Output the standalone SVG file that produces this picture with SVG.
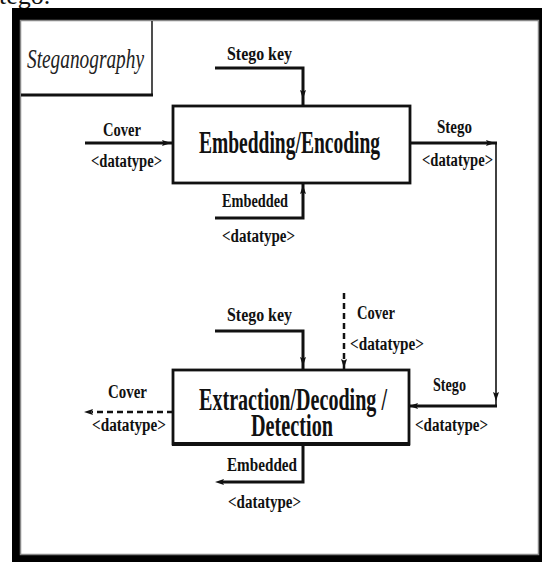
<svg xmlns="http://www.w3.org/2000/svg" xmlns:xlink="http://www.w3.org/1999/xlink" width="545" height="565" viewBox="0 0 545 565">
<style>
.lbl{font-family:"Liberation Serif","Times New Roman",serif;font-size:18px;font-weight:bold;fill:#111;}
.big{font-family:"Liberation Serif","Times New Roman",serif;font-size:32px;font-weight:bold;fill:#111;}
.ttl{font-family:"Liberation Serif","Times New Roman",serif;font-size:28px;font-style:italic;fill:#222;}
.box{fill:#fff;stroke:#111;stroke-width:2.8;}
.ln{fill:none;stroke:#111;stroke-width:3;}
.thin{fill:none;stroke:#111;stroke-width:1.6;}
.dash{fill:none;stroke:#111;stroke-width:2.5;stroke-dasharray:6 4;}
.ah{fill:#111;}
</style>
<defs>
<path id="ah" d="M5,0 L-4,-3 L-2.5,0 L-4,3 Z"/>
</defs>
<rect width="545" height="565" fill="#fff"/>
<text x="-1" y="4" font-family="Liberation Serif, serif" font-size="26" fill="#111">tego.</text>
<g id="frame">
<rect x="12" y="8" width="530" height="554" fill="#000"/>
<rect x="20.5" y="20.5" width="518" height="534" fill="#fff" stroke="#888" stroke-width="1.5"/>
</g>
<g id="title">
<line x1="152" y1="21" x2="152" y2="95" stroke="#222" stroke-width="1.6"/>
<line x1="21" y1="95" x2="153" y2="95" stroke="#111" stroke-width="3"/>
<text class="ttl" x="27" y="68" textLength="117" lengthAdjust="spacingAndGlyphs">Steganography</text>
</g>
<g id="connectors">
<polyline class="ln" points="215,68 303,68 303,106"/>
<use xlink:href="#ah" class="ah" transform="translate(303,94) rotate(90)"/>
<line class="ln" x1="85" y1="143" x2="172" y2="143"/>
<use xlink:href="#ah" class="ah" transform="translate(166,143)"/>
<polyline class="ln" points="215,218 303,218 303,183"/>
<use xlink:href="#ah" class="ah" transform="translate(303,190) rotate(-90)"/>
<line class="ln" x1="410" y1="143" x2="497" y2="143"/>
<use xlink:href="#ah" class="ah" transform="translate(490,143)"/>
<line class="thin" x1="496" y1="143" x2="496" y2="407"/>
<use xlink:href="#ah" class="ah" transform="translate(496,396) rotate(90)"/>
<line class="ln" x1="497" y1="406" x2="410" y2="406"/>
<use xlink:href="#ah" class="ah" transform="translate(414,406) rotate(180)"/>
<polyline class="ln" points="215,331 303,331 303,370"/>
<use xlink:href="#ah" class="ah" transform="translate(303,361) rotate(90)"/>
<line class="dash" x1="344" y1="293" x2="344" y2="370"/>
<use xlink:href="#ah" class="ah" transform="translate(344,363) rotate(90)"/>
<line class="dash" x1="173" y1="412" x2="92" y2="412"/>
<use xlink:href="#ah" class="ah" transform="translate(89,412) rotate(180)"/>
<polyline class="ln" points="303,444 303,482 222,482"/>
<use xlink:href="#ah" class="ah" transform="translate(220,482) rotate(180)"/>
</g>
<g id="embed">
<rect class="box" x="173" y="106" width="237" height="77"/>
<text class="big" x="199" y="153" textLength="181" lengthAdjust="spacingAndGlyphs">Embedding/Encoding</text>
</g>
<g id="extract">
<rect class="box" x="173" y="370" width="236" height="74"/>
<line x1="172" y1="444" x2="410" y2="444" stroke="#111" stroke-width="4"/>
<text class="big" x="199" y="410" font-size="30" textLength="188" lengthAdjust="spacingAndGlyphs">Extraction/Decoding /</text>
<text class="big" x="251" y="436" font-size="30" textLength="82" lengthAdjust="spacingAndGlyphs">Detection</text>
</g>
<g id="labels">
<text class="lbl" x="227" y="60" textLength="65" lengthAdjust="spacingAndGlyphs">Stego key</text>
<text class="lbl" x="103" y="136" textLength="38" lengthAdjust="spacingAndGlyphs">Cover</text>
<text class="lbl" x="91" y="167" textLength="71" lengthAdjust="spacingAndGlyphs">&lt;datatype&gt;</text>
<text class="lbl" x="437" y="133" textLength="35" lengthAdjust="spacingAndGlyphs">Stego</text>
<text class="lbl" x="422" y="166" textLength="71" lengthAdjust="spacingAndGlyphs">&lt;datatype&gt;</text>
<text class="lbl" x="222" y="207" textLength="66" lengthAdjust="spacingAndGlyphs">Embedded</text>
<text class="lbl" x="222" y="242" textLength="73" lengthAdjust="spacingAndGlyphs">&lt;datatype&gt;</text>
<text class="lbl" x="227" y="321" textLength="65" lengthAdjust="spacingAndGlyphs">Stego key</text>
<text class="lbl" x="357" y="319" textLength="38" lengthAdjust="spacingAndGlyphs">Cover</text>
<text class="lbl" x="350" y="350" textLength="74" lengthAdjust="spacingAndGlyphs">&lt;datatype&gt;</text>
<text class="lbl" x="108" y="398" textLength="39" lengthAdjust="spacingAndGlyphs">Cover</text>
<text class="lbl" x="92" y="431" textLength="74" lengthAdjust="spacingAndGlyphs">&lt;datatype&gt;</text>
<text class="lbl" x="433" y="391" textLength="33" lengthAdjust="spacingAndGlyphs">Stego</text>
<text class="lbl" x="415" y="431" textLength="73" lengthAdjust="spacingAndGlyphs">&lt;datatype&gt;</text>
<text class="lbl" x="227" y="471" textLength="70" lengthAdjust="spacingAndGlyphs">Embedded</text>
<text class="lbl" x="228" y="508" textLength="73" lengthAdjust="spacingAndGlyphs">&lt;datatype&gt;</text>
</g>
</svg>
